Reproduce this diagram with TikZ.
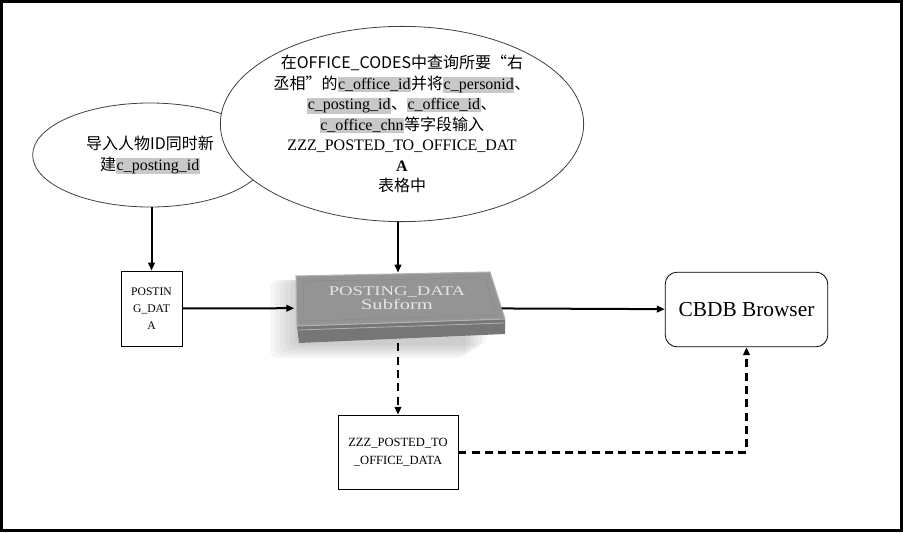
\documentclass[tikz,border=0pt]{standalone}
\usepackage{fontspec}
\setmainfont{Liberation Serif}
\newfontfamily\cjk{Noto Sans CJK SC}
\usetikzlibrary{shapes.geometric,arrows.meta}

\definecolor{hlgray}{RGB}{200,200,200}
\definecolor{facegray}{RGB}{148,148,148}
\definecolor{edgegray}{RGB}{118,118,118}
\definecolor{rimgray}{RGB}{178,178,178}

\newcommand{\hlfield}[1]{{\setlength{\fboxsep}{0.4pt}\colorbox{hlgray}{#1}}}

\tikzset{
  flow/.style={-{Triangle[length=6pt,width=5pt]},line width=1.5pt},
  dashflow/.style={flow,line width=1.8pt,dash pattern=on 6pt off 4pt}
}

\begin{document}
\begin{tikzpicture}[x=0.75pt,y=-0.75pt]
  \useasboundingbox (0,0) rectangle (903,532);
  \draw[line width=2.2pt] (1.5,1.5) rectangle (901.5,530.5);

  % ellipses
  \begin{scope}[every node/.style={ellipse,draw=black!75,fill=white,line width=0.6pt,inner sep=0pt,align=center,font=\fontsize{12}{15.4}\selectfont}]
    \node[minimum width=176pt,minimum height=78pt] (import) at (150,155)
      {{\cjk 导入人物ID同时新}\\{\cjk 建}\hlfield{c\_posting\_id}};
    \node[minimum width=265pt,minimum height=144pt] (query) at (402,124)
      {{\cjk 在OFFICE\_CODES中查询所要“右}\\
       {\cjk 丞相”的}\hlfield{c\_office\_id}{\cjk 并将}\hlfield{c\_personid}{\cjk 、}\\
       \hlfield{c\_posting\_id}{\cjk 、}\hlfield{c\_office\_id}{\cjk 、}\\
       \hlfield{c\_office\_chn}{\cjk 等字段输入}\\
       ZZZ\_POSTED\_TO\_OFFICE\_DAT\\
       \textbf{A}\\
       {\cjk 表格中}};
  \end{scope}

  % subform plate
  \foreach \s in {1,...,6}
    \fill[black,opacity=0.035,rounded corners=6pt] (300-5*\s,280) rectangle (490-4*\s,343+2.5*\s);
  \fill[edgegray] (297,326) -- (505,319) -- (505,334) -- (299,343) -- cycle;
  \draw[rimgray,line width=0.6pt] (298,330) -- (504,323);
  \fill[facegray,draw=rimgray,line width=0.8pt] (296,276) -- (490,272) -- (505,319) -- (297,326) -- cycle;
  \draw[black!45,line width=0.5pt] (303,281) -- (485,278) -- (497,315) -- (304,321) -- cycle;

  % boxes
  \begin{scope}[every node/.style={draw,line width=0.6pt,inner sep=1pt,align=center}]
    \node[minimum width=45.75pt,minimum height=56.25pt,font=\fontsize{8.7}{12.5}\selectfont] (pd) at (151.5,308.5)
      {POSTIN\\G\_DAT\\A};
    \node[draw=none,minimum width=155pt,minimum height=52.5pt] (sub) at (398,308) {};
    \node[rounded corners=9pt,minimum width=122pt,minimum height=56pt,font=\fontsize{16}{19}\selectfont] (cbdb) at (746.5,309.5)
      {CBDB Browser};
    \node[minimum width=90pt,minimum height=56pt,font=\fontsize{9.4}{13.5}\selectfont] (zzz) at (398,452.5)
      {ZZZ\_POSTED\_TO\\\_OFFICE\_DATA};
  \end{scope}
  \node[text=black!10,align=center,xscale=1.4,transform shape,font=\fontsize{10}{11}\selectfont] (sublabel) at (397,298)
    {POSTING\_DATA\\[-1pt]{\fontsize{11}{11}\selectfont Subform}};

  % connectors
  \draw[flow] (pd.north |- import.south) -- (pd.north);
  \draw[flow] (sub.north |- query.south) -- (sub.north);
  \draw[flow] (pd) -- (sub);
  \draw[flow] (sub) -- (cbdb);
  \draw[dashflow] (sub.south) -- (zzz.north);
  \draw[dashflow] (zzz.east) -| (cbdb.south);

\end{tikzpicture}
\end{document}
